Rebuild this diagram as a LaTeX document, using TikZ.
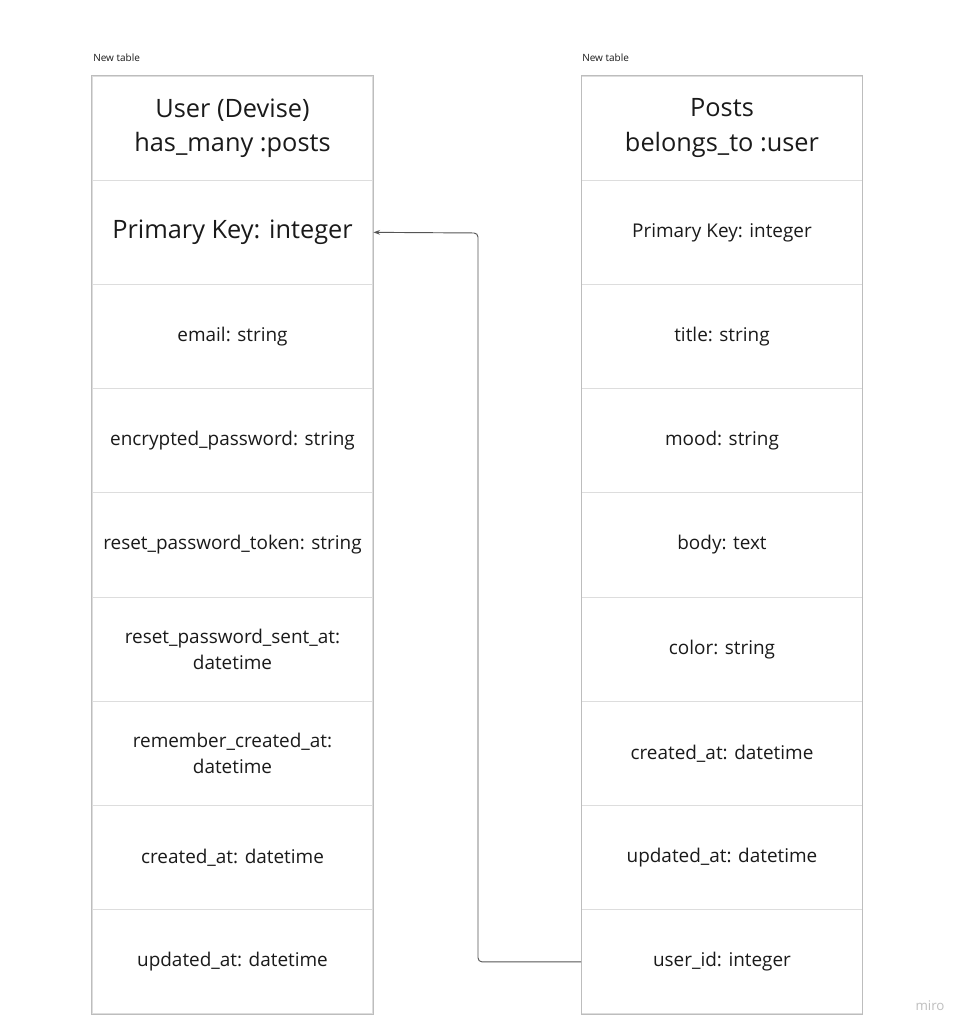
\documentclass[tikz,border=0pt]{standalone}
\usepackage{fontspec}
\setmainfont{Open Sans}
\usetikzlibrary{arrows.meta}
\definecolor{cellline}{HTML}{DDDDDD}
\definecolor{outline}{HTML}{BDBDBD}
\definecolor{connc}{HTML}{555555}
\definecolor{txt}{HTML}{1A1A1A}
\tikzset{
  cell/.style={draw=cellline, line width=0.8pt, minimum width=210.5pt, minimum height=78.15pt, inner sep=0pt, align=center, text=txt, font=\fontsize{14.2}{19.5}\selectfont},
  bigcell/.style={cell, font=\fontsize{19}{26}\selectfont},
  tablebox/.style={draw=outline, line width=0.9pt},
  caption/.style={font=\fontsize{7.5}{9}\selectfont, text=txt, anchor=base west, inner sep=0pt},
  conn/.style={draw=connc, line width=0.7pt, rounded corners=3pt, -{Stealth[length=5pt,width=3.5pt]}}
}
\begin{document}
\begin{tikzpicture}[x=0.75pt,y=-0.75pt]
\useasboundingbox (0,0) rectangle (968,1032);
\fill[white] (0,0) rectangle (968,1032);
% captions
\node[caption] (capL) at (93,61) {New table};
\node[caption] (capR) at (582,61) {New table};
% left table
\foreach \i/\t/\s in {0/{User (Devise)\\has\_many :posts}/bigcell,
  1/{Primary Key: integer}/bigcell,
  2/{email: string}/cell,
  3/{encrypted\_password: string}/cell,
  4/{reset\_password\_token: string}/cell,
  5/{reset\_password\_sent\_at:\\datetime}/cell,
  6/{remember\_created\_at:\\datetime}/cell,
  7/{created\_at: datetime}/cell,
  8/{updated\_at: datetime}/cell}{
  \node[\s] (l\i) at (232.5,{76+104.22*(\i+0.5)}) {\t};
}
% right table
\foreach \i/\t/\s in {0/{Posts\\belongs\_to :user}/bigcell,
  1/{Primary Key: integer}/cell,
  2/{title: string}/cell,
  3/{mood: string}/cell,
  4/{body: text}/cell,
  5/{color: string}/cell,
  6/{created\_at: datetime}/cell,
  7/{updated\_at: datetime}/cell,
  8/{user\_id: integer}/cell}{
  \node[\s] (r\i) at (722,{76+104.22*(\i+0.5)}) {\t};
}
\draw[tablebox] (l0.north west) rectangle (l8.south east);
\draw[tablebox] (r0.north west) rectangle (r8.south east);
% connector
\coordinate (turn) at (478,233);
\draw[conn] (r8.west) -| (turn) -- (l1.east);
% watermark
\node[font=\fontsize{10}{12}\selectfont, text=black!25, inner sep=0pt] (miro) at (930,1006) {miro};
\end{tikzpicture}
\end{document}
